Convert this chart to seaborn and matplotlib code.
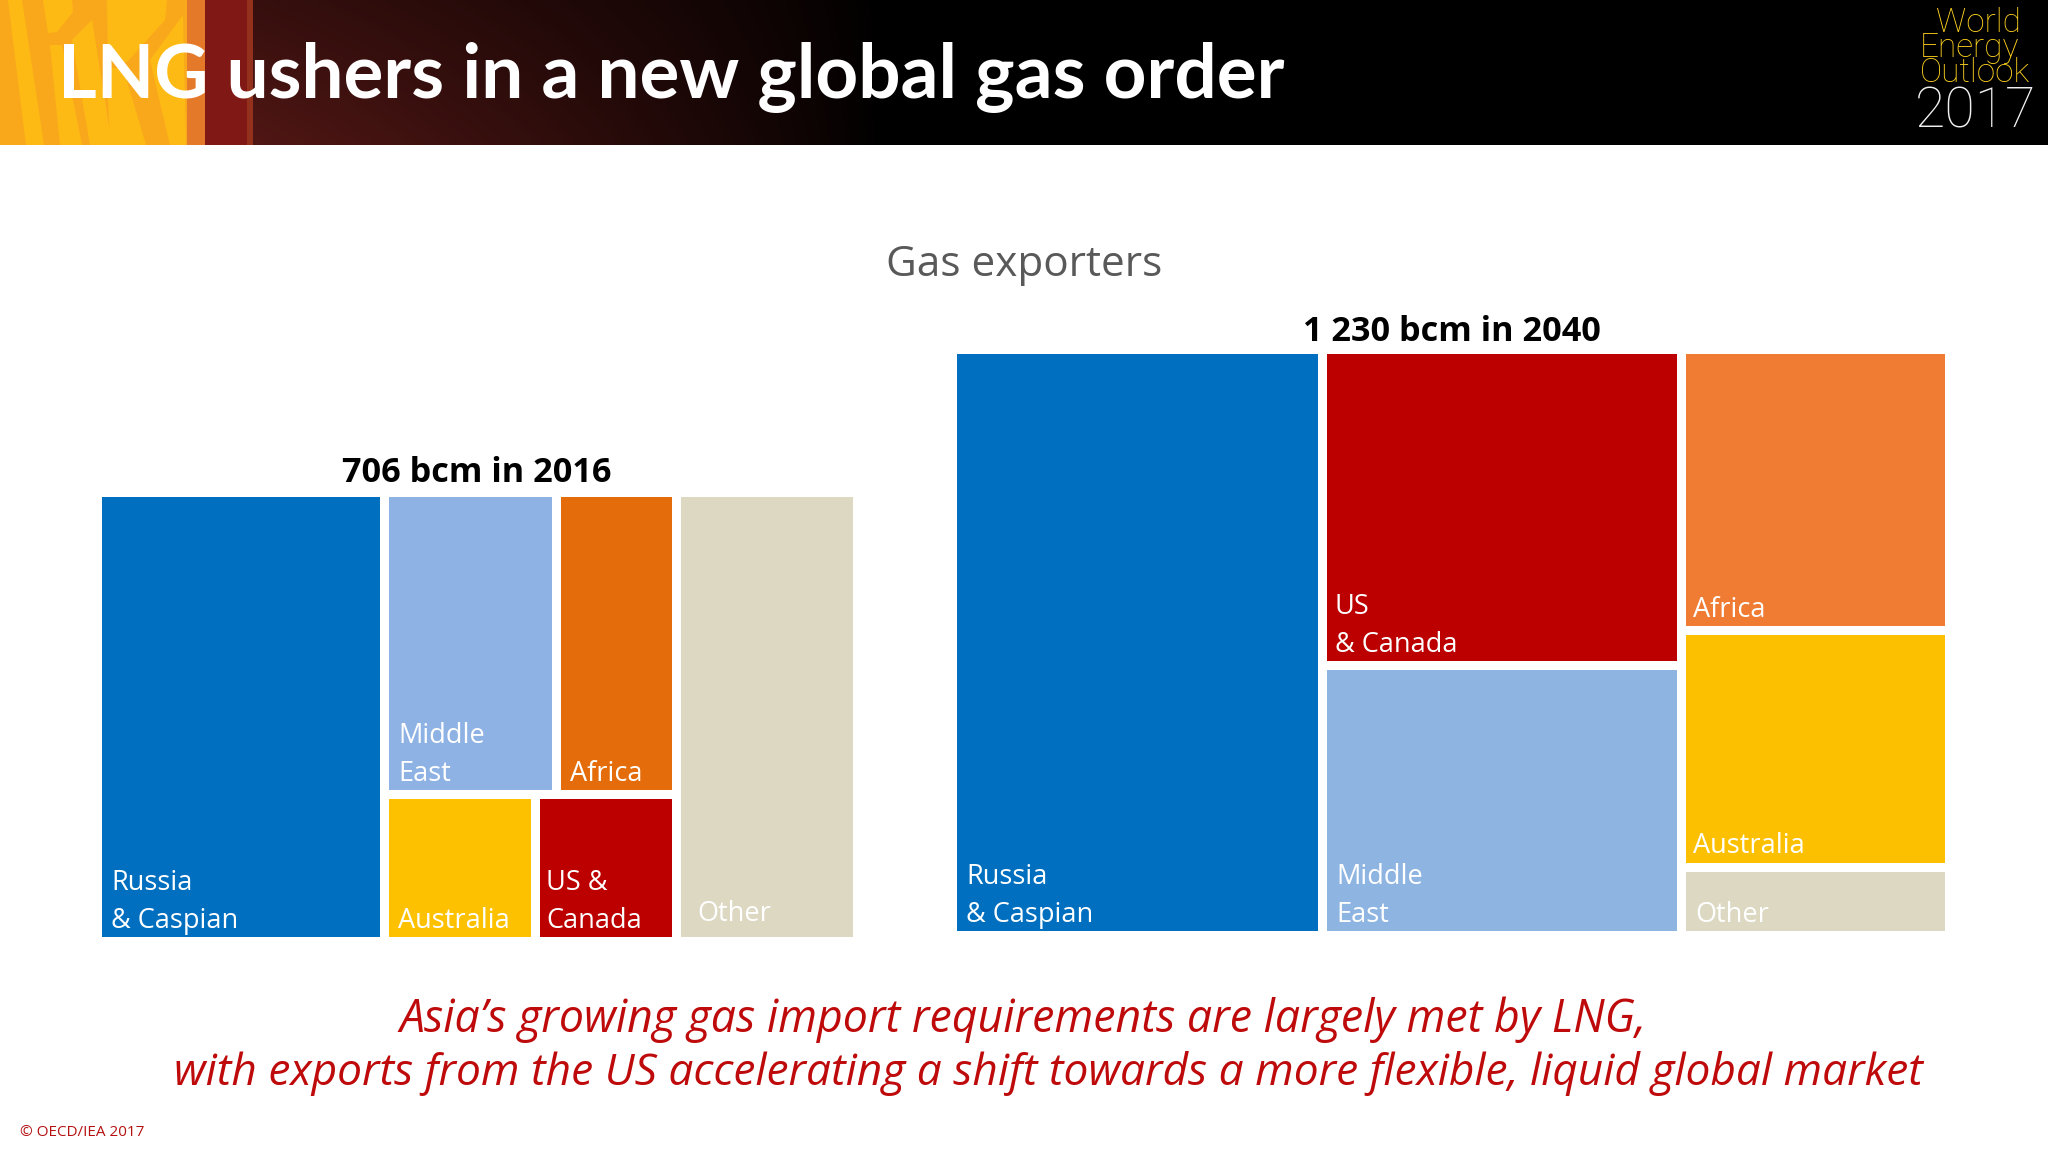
import numpy as np
import matplotlib.pyplot as plt
from matplotlib.patches import Polygon
import seaborn as sns

# tile values in bcm, read from the tile areas
names_2016 = ['Russia', 'Middle East', 'Africa', 'Australia', 'US', 'Other']
values_2016 = [266, 109, 76, 46, 43, 166]
names_2040 = ['Russia', 'US', 'Middle East', 'Africa', 'Australia', 'Other']
values_2040 = [455, 241, 206, 157, 135, 36]

labels_2016 = {'Russia': 'Russia\n& Caspian', 'Middle East': 'Middle\nEast', 'Africa': 'Africa',
               'Australia': 'Australia', 'US': 'US &\nCanada', 'Other': 'Other'}
labels_2040 = {'Russia': 'Russia\n& Caspian', 'Middle East': 'Middle\nEast', 'Africa': 'Africa',
               'Australia': 'Australia', 'US': 'US\n& Canada', 'Other': 'Other'}

colors_2016 = {'Russia': '#006fc0', 'Middle East': '#8eb2e3', 'Africa': '#e46c0a',
               'Australia': '#fdc100', 'US': '#bc0000', 'Other': '#dcd8c2'}
colors_2040 = {'Russia': '#006fc0', 'Middle East': '#8eb4e1', 'Africa': '#f07c34',
               'Australia': '#fdc000', 'US': '#bc0000', 'Other': '#dcd8c2'}

# columns -> rows -> tiles
layout_2016 = [[['Russia']], [['Middle East', 'Africa'], ['Australia', 'US']], [['Other']]]
layout_2040 = [[['Russia']], [['US'], ['Middle East']], [['Africa'], ['Australia'], ['Other']]]

sns.set_theme(style='white')
plt.rcParams['font.family'] = ['Open Sans', 'DejaVu Sans']

fig = plt.figure(figsize=(20.48, 11.52), dpi=100)
ax = fig.add_axes([0, 0, 1, 1])


def draw_treemap(names, values, layout, colors, labels, box, gap=9, pads={}):
    x0, y0, w, h = box
    val = dict(zip(names, values))
    total = sum(values)
    x = x0
    for col in layout:
        col_total = sum(val[n] for row in col for n in row)
        col_w = w * col_total / total
        y = y0
        for row in col:
            row_total = sum(val[n] for n in row)
            row_h = h * row_total / col_total
            tx = x
            for n in row:
                tile_w = col_w * val[n] / row_total
                left = tx + (gap / 2 if tx > x0 else 0)
                right = tx + tile_w - (gap / 2 if tx + tile_w < x0 + w - 1 else 0)
                top = y + (gap / 2 if y > y0 else 0)
                bottom = y + row_h - (gap / 2 if y + row_h < y0 + h - 1 else 0)
                sns.barplot(x=[(left + right) / 2], y=[bottom - top], bottom=top, width=right - left,
                            native_scale=True, color=colors[n], saturation=1, errorbar=None,
                            linewidth=0, ax=ax)
                pad_x, pad_y = pads.get(n, (9, 9))
                ax.text(left + pad_x, bottom - pad_y, labels[n], color='white', fontsize=19.5,
                        ha='left', va='baseline', linespacing=1.48)
                tx += tile_w
            y += row_h
        x += col_w


draw_treemap(names_2016, values_2016, layout_2016, colors_2016, labels_2016,
             (102, 497, 751, 440), pads={'Other': (16, 16), 'US': (6, 9)})
draw_treemap(names_2040, values_2040, layout_2040, colors_2040, labels_2040,
             (957, 354, 988, 577), pads={'Africa': (7, 9), 'Australia': (7, 10), 'US': (8, 9)})

# header band
xs = np.linspace(253, 2048, 1400)
fade = np.clip((880 - xs) / (880 - 253), 0, 1) ** 0.8
vert = np.linspace(0.85, 1.25, 30)[:, None]
grad = np.zeros((30, 1400, 3))
grad[:, :, 0] = 64 / 255 * fade * vert
grad[:, :, 1] = 18 / 255 * fade * vert
grad[:, :, 2] = 16 / 255 * fade * vert
ax.imshow(grad, extent=(253, 2048, 145, 0), aspect='auto', zorder=1, interpolation='bilinear')
ax.add_patch(plt.Rectangle((0, 0), 190, 145, color='#f9a81b', lw=0, zorder=1))
ax.add_patch(plt.Rectangle((187, 0), 20, 145, color='#e4792a', lw=0, zorder=1))
ax.add_patch(plt.Rectangle((205, 0), 42, 145, color='#801816', lw=0, zorder=1))
ax.add_patch(plt.Rectangle((247, 0), 6, 145, color='#93311d', lw=0, zorder=1))

yellow = [[(43, 0), (72, 0), (73, 12), (57, 32), (48, 33)],
          [(107, 0), (167, 0), (165, 20), (127, 62), (108, 60)],
          [(8, 0), (22, 0), (44, 145), (26, 145)],
          [(107, 68), (123, 68), (146, 145), (110, 145)],
          [(150, 60), (183, 15), (186, 145), (170, 145)],
          [(72, 40), (92, 20), (112, 145), (90, 145)],
          [(50, 45), (62, 45), (82, 145), (60, 145)]]
for pts in yellow:
    ax.add_patch(Polygon(pts, closed=True, color='#fdba14', lw=0, zorder=1.5))

ax.text(58, 98, 'LNG ushers in a new global gas order', color='white', fontsize=53.7,
        fontweight='bold', family=['Lato', 'DejaVu Sans'], ha='left', va='baseline', zorder=3)

# WEO logo
ax.text(1920, 82, '  World\nEnergy\nOutlook', color='#ffd21f', fontsize=24, fontweight='light',
        family=['Roboto', 'DejaVu Sans'], ha='left', va='baseline', linespacing=0.72, zorder=3)
ax.text(2036, 112, '2017', color='#f0f0f0', fontsize=40, fontweight='light',
        family=['Roboto', 'DejaVu Sans'], ha='right', va='center', zorder=3)

ax.text(1024, 265, 'Gas exporters', color='#595959', fontsize=30.4, ha='center', va='center')
ax.text(477, 473, '706 bcm in 2016', color='black', fontsize=24.7, fontweight='bold', ha='center', va='center')
ax.text(1452, 332, '1 230 bcm in 2040', color='black', fontsize=24.7, fontweight='bold', ha='center', va='center')

ax.text(1023, 1020, 'Asia\u2019s growing gas import requirements are largely met by LNG,', color='#be0a0a',
        fontsize=32.1, style='italic', ha='center', va='center')
ax.text(1048, 1074, 'with exports from the US accelerating a shift towards a more flexible, liquid global market',
        color='#be0a0a', fontsize=31.9, style='italic', ha='center', va='center')
ax.text(20, 1132, '\u00a9 OECD/IEA 2017', color='#b51010', fontsize=11, ha='left', va='center')

ax.set_xlim(0, 2048)
ax.set_ylim(1152, 0)
ax.axis('off')
fig.savefig('out.png', dpi=100)
